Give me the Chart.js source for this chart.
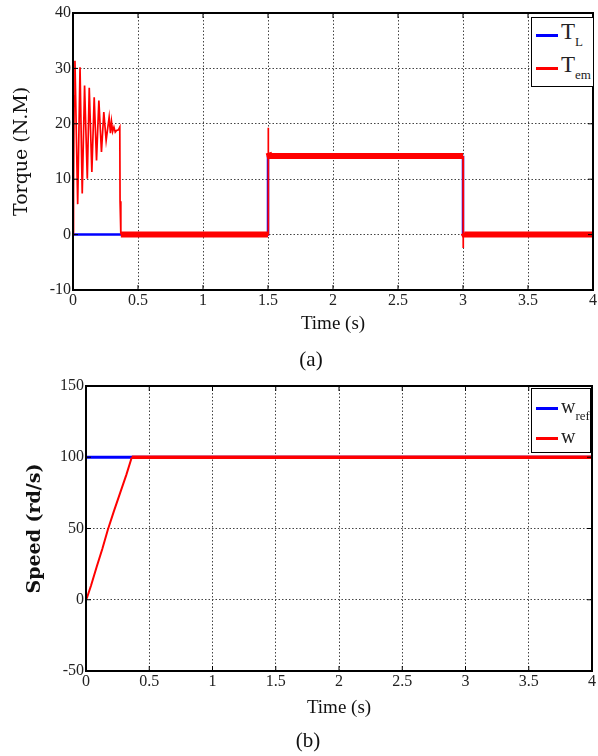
<!DOCTYPE html>
<html>
<head>
<meta charset="utf-8">
<script src="https://cdn.jsdelivr.net/npm/chart.js@4/dist/chart.umd.min.js"></script>
<style>
  body { margin: 0; background: #fff; width: 598px; height: 756px; position: relative; overflow: hidden; font-family: "Liberation Serif", serif; }
  canvas { position: absolute; left: 0; }
  #torqueChart { top: 0; }
  #speedChart { top: 370px; }
  .caption { position: absolute; font-size: 21px; color: #111; transform: translateX(-50%); }
  .legend { position: absolute; background: #fff; border: 1.5px solid #000; box-sizing: border-box; }
  .row { position: absolute; left: 4px; height: 0; }
  .swatch { position: absolute; left: 0; top: -1.5px; width: 22px; height: 3px; }
  .lbl { position: absolute; left: 25px; top: -15px; color: #222; white-space: nowrap; line-height: 1; }
  .lbl sub { font-size: 13px; vertical-align: -7px; }
</style>
</head>
<body>
<canvas id="torqueChart" width="598" height="340"></canvas>
<canvas id="speedChart" width="598" height="350"></canvas>

<div class="caption" style="left:311px; top:347px;">(a)</div>
<div class="caption" style="left:308px; top:728px;">(b)</div>

<div class="legend" style="left:531px; top:17px; width:63px; height:70px;">
  <div class="row" style="top:17px;"><div class="swatch" style="background:#0000ff"></div><div class="lbl" style="font-size:23px;">T<sub>L</sub></div></div>
  <div class="row" style="top:50px;"><div class="swatch" style="background:#ff0000"></div><div class="lbl" style="font-size:23px;">T<sub>em</sub></div></div>
</div>
<div class="legend" style="left:531px; top:388px; width:60px; height:65px;">
  <div class="row" style="top:19px;"><div class="swatch" style="background:#0000ff"></div><div class="lbl" style="font-size:20px; top:-12px;">w<sub>ref</sub></div></div>
  <div class="row" style="top:49px;"><div class="swatch" style="background:#ff0000"></div><div class="lbl" style="font-size:20px; top:-12px;">w</div></div>
</div>

<script>
// (a) torque, values
const torqueTime = [0, 0.004, 0.009, 0.015, 0.036, 0.054, 0.071, 0.089, 0.11, 0.125, 0.145, 0.163, 0.181, 0.199, 0.219, 0.237, 0.255, 0.278, 0.288, 0.296, 0.305, 0.315, 0.325, 0.335, 0.35, 0.36, 0.362, 0.368, 1.5, 1.5, 1.505, 1.512, 3.0, 3.0, 3.004, 3.01, 4.0];
const torqueEm   = [0, 8, 25, 31.4, 5.5, 30.2, 7.4, 26.9, 10.1, 26.5, 11.3, 24.8, 13.4, 24.2, 14.9, 22.1, 17.0, 21.2, 18.3, 20.4, 18.6, 19.4, 18.5, 18.8, 18.9, 19.4, 6.0, 0, 0, 19.3, 14.8, 14.2, 14.2, -2.4, 0.3, 0, 0];
const loadTime   = [0, 1.5, 1.5, 3.0, 3.0, 4.0];
const loadTorque = [0, 0, 14, 14, 0, 0];

// (b) speed
const refTime  = [0, 4];
const refSpeed = [100, 100];
const speedTime = [0, 0.01, 0.04, 0.084, 0.13, 0.172, 0.22, 0.27, 0.32, 0.362, 1, 2, 3, 4];
const speed     = [0, 2, 10, 23, 36, 49, 62, 75, 88, 100, 100, 100, 100, 100];

const xTicks = [0, 0.5, 1, 1.5, 2, 2.5, 3, 3.5, 4];

function toPoints(xs, ys) {
    return xs.map((x, i) => ({ x: x, y: ys[i] }));
}

const serif = 'Liberation Serif';
const tickFont = { family: serif, size: 16 };

// box round the plot plus short inward ticks, matlab style
const framePlugin = {
    id: 'frame',
    afterDatasetsDraw(chart) {
        const { ctx, chartArea: a, scales } = chart;
        ctx.save();
        ctx.strokeStyle = '#000';
        ctx.lineWidth = 1;
        ctx.beginPath();
        scales.x.ticks.forEach(t => {
            const px = scales.x.getPixelForValue(t.value);
            ctx.moveTo(px, a.bottom); ctx.lineTo(px, a.bottom - 5);
            ctx.moveTo(px, a.top); ctx.lineTo(px, a.top + 5);
        });
        scales.y.ticks.forEach(t => {
            const py = scales.y.getPixelForValue(t.value);
            ctx.moveTo(a.left, py); ctx.lineTo(a.left + 5, py);
            ctx.moveTo(a.right, py); ctx.lineTo(a.right - 5, py);
        });
        ctx.stroke();
        ctx.lineWidth = 2;
        ctx.strokeRect(a.left, a.top, a.right - a.left, a.bottom - a.top);
        ctx.restore();
    }
};

function makeOptions(cfg) {
    return {
        responsive: false,
        animation: false,
        devicePixelRatio: 1,
        layout: { padding: cfg.padding, autoPadding: false },
        plugins: { legend: { display: false }, tooltip: { enabled: false } },
        elements: { point: { radius: 0 }, line: { tension: 0 } },
        scales: {
            x: {
                type: 'linear', min: 0, max: 4,
                afterBuildTicks: s => { s.ticks = xTicks.map(v => ({ value: v })); },
                afterFit: s => { s.height = cfg.xHeight; },
                ticks: { font: tickFont, color: '#222', padding: 1, maxRotation: 0, callback: v => String(v) },
                grid: { color: '#444', lineWidth: 1, drawTicks: false },
                border: { display: false, dash: [1.5, 2] },
                title: { display: true, text: 'Time (s)', font: { family: serif, size: 19 }, color: '#111', padding: { top: 0, bottom: cfg.xTitlePad } }
            },
            y: {
                type: 'linear', min: cfg.yMin, max: cfg.yMax,
                ticks: { stepSize: cfg.yStep, font: tickFont, color: '#222', padding: 2, callback: v => String(v) },
                afterFit: s => { s.width = cfg.yWidth; },
                grid: { color: '#444', lineWidth: 1, drawTicks: false },
                border: { display: false, dash: [1.5, 2] },
                title: { display: true, text: cfg.yTitle, font: { family: 'DejaVu Serif', size: 19, weight: cfg.yWeight }, color: '#111', padding: { top: cfg.yTitlePad, bottom: 0 } }
            }
        }
    };
}

// thin while oscillating or switching, thick noisy band once settled
function bandWidth(c) {
    const flat = Math.abs(c.p0.parsed.y - c.p1.parsed.y) < 1 && c.p0.parsed.x !== c.p1.parsed.x;
    return flat && c.p0.parsed.x >= 0.365 ? 6 : 1.7;
}

new Chart(document.getElementById('torqueChart').getContext('2d'), {
    type: 'line',
    data: {
        datasets: [{
            label: 'T_em',
            data: toPoints(torqueTime, torqueEm),
            borderColor: '#ff0000',
            borderWidth: 1.7,
            order: 0,
            segment: { borderWidth: bandWidth }
        }, {
            label: 'T_L',
            data: toPoints(loadTime, loadTorque),
            borderColor: '#0000ff',
            borderWidth: 2.5,
            order: 1
        }]
    },
    options: makeOptions({
        padding: { top: 13, right: 2, left: 0, bottom: 0 },
        xHeight: 50, yWidth: 73, xTitlePad: 5, yTitlePad: 11,
        yMin: -10, yMax: 40, yStep: 10, yTitle: 'Torque (N.M)', yWeight: 'normal'
    }),
    plugins: [framePlugin]
});

new Chart(document.getElementById('speedChart').getContext('2d'), {
    type: 'line',
    data: {
        datasets: [{
            label: 'w',
            data: toPoints(speedTime, speed),
            borderColor: '#ff0000',
            borderWidth: 2,
            order: 0,
            segment: {
                borderWidth: c => c.p0.parsed.x >= 0.36 ? 3.5 : 2
            }
        }, {
            label: 'w_ref',
            data: toPoints(refTime, refSpeed),
            borderColor: '#0000ff',
            borderWidth: 3,
            order: 1
        }]
    },
    options: makeOptions({
        padding: { top: 16, right: 6, left: 0, bottom: 0 },
        xHeight: 49, yWidth: 86, xTitlePad: 1, yTitlePad: 24,
        yMin: -50, yMax: 150, yStep: 50, yTitle: 'Speed (rd/s)', yWeight: 'bold'
    }),
    plugins: [framePlugin]
});
</script>
</body>
</html>
